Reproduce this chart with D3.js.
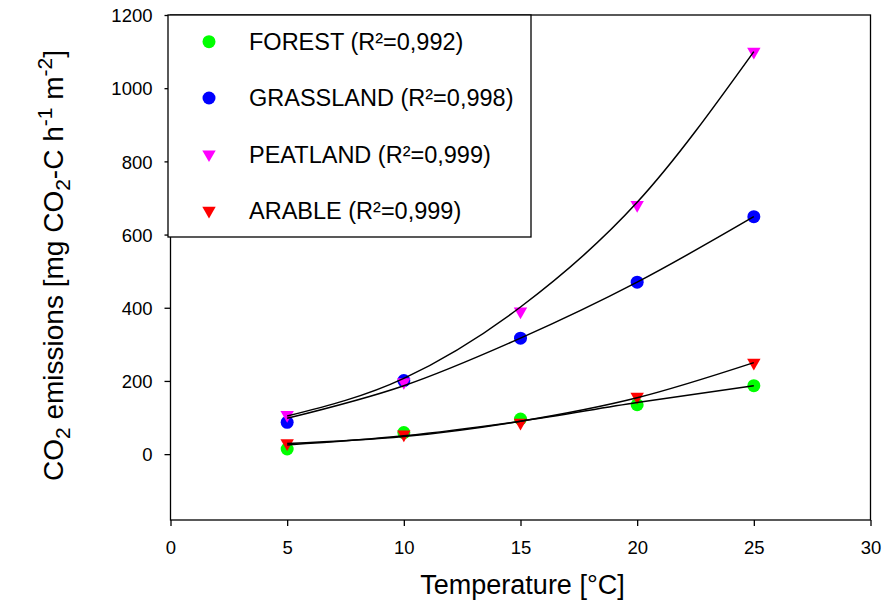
<!DOCTYPE html>
<html>
<head>
<meta charset="utf-8">
<script src="https://cdn.jsdelivr.net/npm/d3@7"></script>
<style>
  body { margin: 0; background: #fff; }
  svg { display: block; font-family: "Liberation Sans", Arial, sans-serif; }
</style>
</head>
<body>
<svg id="chart" width="895" height="608"></svg>
<script>
// temperatures (°C)
var temperatures = [5, 10, 15, 20, 25];

// measured CO2 emissions
var forest    = [14, 59, 96, 135, 187];
var grassland = [87, 201, 317, 470, 649];
var peatland  = [107, 197, 390, 681, 1100];
var arable    = [30, 54, 86, 157, 250];

// regression curves as drawn in the figure
var forestFit    = [25, 50, 90, 141, 187];
var grasslandFit = [98, 187, 317, 470, 649];
var peatlandFit  = [104, 207, 402, 688, 1100];
var arableFit    = [29, 48, 90, 154, 250];

var seriesNames = ["FOREST", "GRASSLAND", "PEATLAND", "ARABLE"];
var rSquared = ["0,992", "0,998", "0,999", "0,999"];

var xTicks = [0, 5, 10, 15, 20, 25, 30];
var yTicks = [0, 200, 400, 600, 800, 1000, 1200];

var series = [
    { name: seriesNames[0], r2: rSquared[0], values: forest, fit: forestFit, color: "#00ff00", shape: "circle" },
    { name: seriesNames[1], r2: rSquared[1], values: grassland, fit: grasslandFit, color: "#0000ff", shape: "circle" },
    { name: seriesNames[2], r2: rSquared[2], values: peatland, fit: peatlandFit, color: "#ff00ff", shape: "triangle" },
    { name: seriesNames[3], r2: rSquared[3], values: arable, fit: arableFit, color: "#ff0000", shape: "triangle" }
];

var svg = d3.select("#chart");

var plotLeft = 170.5, plotRight = 870.5, plotTop = 15, plotBottom = 520;

var x = d3.scaleLinear().domain([0, 30]).range([plotLeft, plotRight]);
var y = d3.scaleLinear().domain([-180, 1200]).range([plotBottom, plotTop]);

// frame
svg.append("rect")
    .attr("x", plotLeft).attr("y", plotTop)
    .attr("width", plotRight - plotLeft).attr("height", plotBottom - plotTop)
    .attr("fill", "none").attr("stroke", "#000").attr("stroke-width", 1.3);

var xAxis = svg.append("g")
    .attr("transform", "translate(0," + plotBottom + ")")
    .call(d3.axisBottom(x).tickValues(xTicks).tickFormat(d3.format("d"))
        .tickSize(6).tickSizeOuter(0).tickPadding(15));

var yAxis = svg.append("g")
    .attr("transform", "translate(" + plotLeft + ",0)")
    .call(d3.axisLeft(y).tickValues(yTicks).tickFormat(d3.format("d"))
        .tickSize(6).tickSizeOuter(0).tickPadding(12));

[xAxis, yAxis].forEach(function(ax) {
    ax.select(".domain").remove();
    ax.selectAll("line").attr("stroke", "#000").attr("stroke-width", 1.3);
    ax.selectAll("text")
        .attr("fill", "#000")
        .style("font-size", "18.5px")
        .style("font-family", '"Liberation Sans", Arial, sans-serif');
});
yAxis.selectAll("text").attr("dy", "0.36em");

// markers
var symCircle = d3.symbol().type(d3.symbolCircle).size(Math.PI * 6.5 * 6.5);
var triPath = function() {
    // downward triangle, centroid at origin
    return "M-6.7,-3.9L6.7,-3.9L0,7.8Z";
};
var drawMarker = function(sel, s) {
    if (s.shape === "circle") {
        sel.append("path").attr("d", symCircle()).attr("fill", s.color);
    } else {
        sel.append("path").attr("d", triPath()).attr("fill", s.color);
    }
};

series.forEach(function(s) {
    var g = svg.append("g");
    s.values.forEach(function(v, i) {
        var m = g.append("g")
            .attr("transform", "translate(" + x(temperatures[i]) + "," + y(v) + ")");
        drawMarker(m, s);
    });
});

// fitted curves
var line = d3.line()
    .x(function(d, i) { return x(temperatures[i]); })
    .y(function(d) { return y(d); })
    .curve(d3.curveMonotoneX);

svg.append("g").selectAll("path")
    .data(series)
    .enter().append("path")
    .attr("d", function(d) { return line(d.fit); })
    .attr("fill", "none")
    .attr("stroke", "#000")
    .attr("stroke-width", 1.5);

// legend
var legend = svg.append("g");
legend.append("rect")
    .attr("x", 168).attr("y", plotTop)
    .attr("width", 363).attr("height", 222)
    .attr("fill", "#fff").attr("stroke", "#000").attr("stroke-width", 1.3);

series.forEach(function(s, i) {
    var ly = 41.7 + i * 56.3;
    var m = legend.append("g").attr("transform", "translate(209," + ly + ")");
    drawMarker(m, s);
    legend.append("text")
        .attr("x", 249)
        .attr("y", ly + 8.3)
        .style("font-size", "23.5px")
        .text(s.name + " (R²=" + s.r2 + ")");
});

// axis titles
svg.append("text")
    .attr("x", (plotLeft + plotRight) / 2 + 2)
    .attr("y", 594)
    .attr("text-anchor", "middle")
    .style("font-size", "27px")
    .text("Temperature [°C]");

var yt = svg.append("text")
    .attr("transform", "translate(63," + ((plotTop + plotBottom) / 2 - 2) + ") rotate(-90)")
    .attr("text-anchor", "middle")
    .style("font-size", "28px");
yt.append("tspan").text("CO");
yt.append("tspan").attr("dy", 7).style("font-size", "21px").text("2");
yt.append("tspan").attr("dy", -7).text(" emissions [mg CO");
yt.append("tspan").attr("dy", 7).style("font-size", "21px").text("2");
yt.append("tspan").attr("dy", -7).text("-C h");
yt.append("tspan").attr("dy", -11).style("font-size", "21px").text("-1");
yt.append("tspan").attr("dy", 11).text(" m");
yt.append("tspan").attr("dy", -11).style("font-size", "21px").text("-2");
yt.append("tspan").attr("dy", 11).text("]");
</script>
</body>
</html>
